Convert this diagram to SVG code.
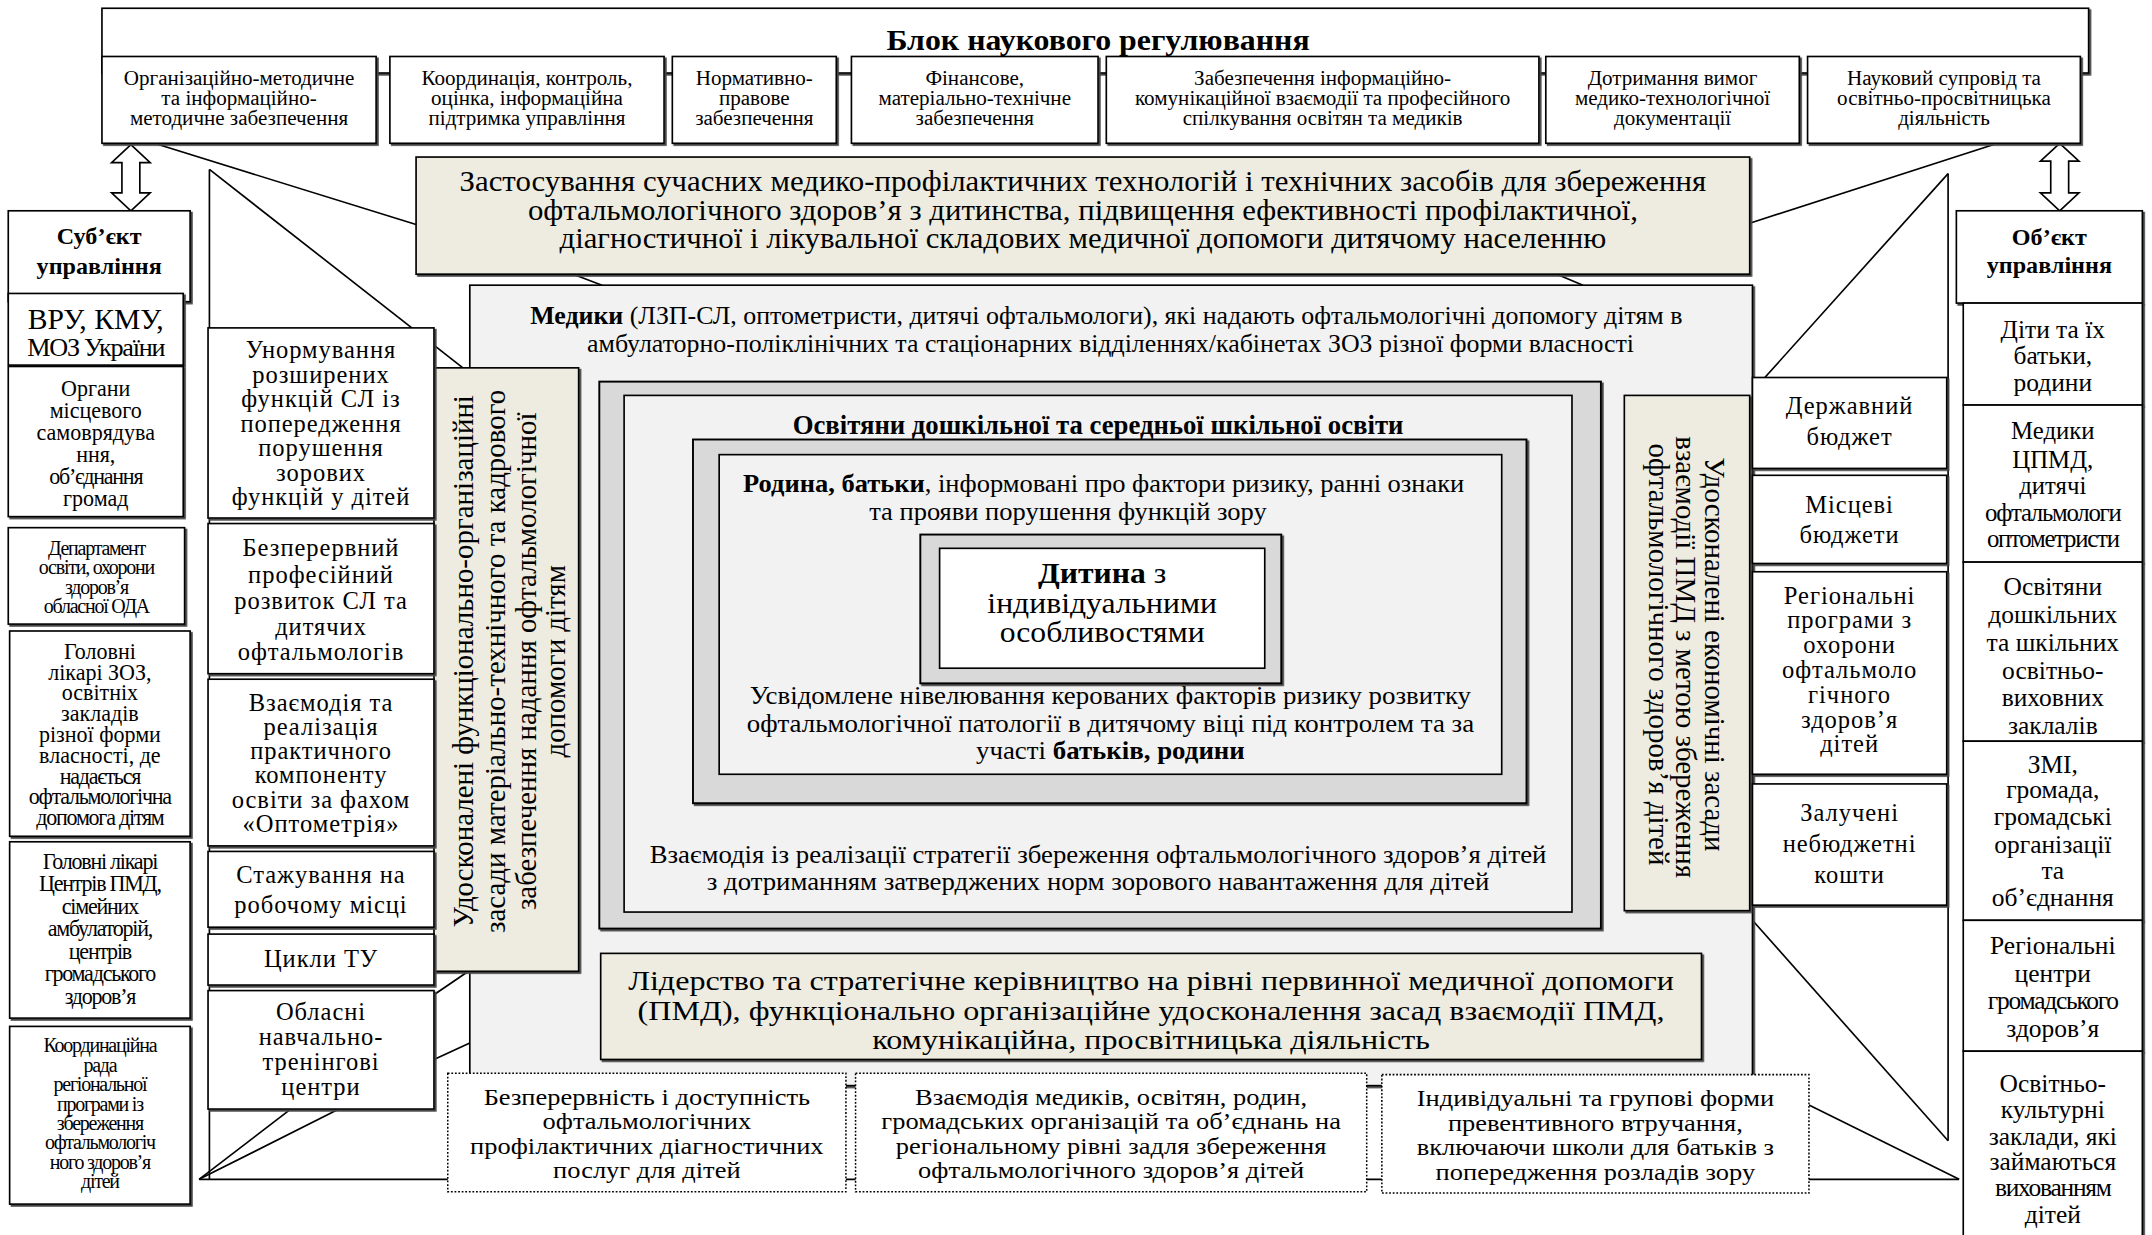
<svg xmlns="http://www.w3.org/2000/svg" width="2152" height="1235" viewBox="0 0 2152 1235">
<defs>
<style>
text{font-family:"Liberation Serif","Times New Roman",serif;fill:#000;text-anchor:middle}
.b{fill:#fff;stroke:#000;stroke-width:1.2}
.bg{fill:#EEECE1;stroke:#000;stroke-width:1.2}
.gr{fill:#F2F2F2;stroke:#000;stroke-width:1.2}
.band{fill:#D9D9D9;stroke:#000;stroke-width:1.4}
.dot{fill:#fff;stroke:#000;stroke-width:1.1;stroke-dasharray:1.3 1.3}
.sh{filter:url(#sh)}
.ln{stroke:#000;stroke-width:1.2;fill:none}
.s{font-size:15.3px}
.m{font-size:17.8px;letter-spacing:0.7px}
.r{font-size:18.5px}
.c{letter-spacing:-0.9px}
.bd{font-weight:bold}
</style>
<filter id="sh" x="-10%" y="-10%" width="125%" height="125%"><feDropShadow dx="1.3" dy="1.3" stdDeviation="0" flood-color="#444"/></filter>
</defs>
<rect width="2152" height="1235" fill="#fff"/>
<g transform="scale(1.37772)">
<g id="connectors">
<line class="ln" x1="112" y1="104" x2="302" y2="163"/>
<line class="ln" x1="1450" y1="104" x2="1270" y2="162"/>
<line class="ln" x1="152" y1="123" x2="152" y2="856"/>
<line class="ln" x1="152" y1="123" x2="336" y2="267"/>
<line class="ln" x1="144.5" y1="856" x2="1422" y2="856"/>
<line class="ln" x1="211" y1="805" x2="144.5" y2="856"/>
<line class="ln" x1="246" y1="805" x2="144.5" y2="856"/>
<line class="ln" x1="315" y1="722" x2="340" y2="705"/>
<line class="ln" x1="315" y1="769" x2="341" y2="757"/>
<line class="ln" x1="1414" y1="126" x2="1414" y2="828"/>
<line class="ln" x1="1414" y1="126" x2="1281" y2="274"/>
<line class="ln" x1="1272" y1="668" x2="1414" y2="828"/>
<line class="ln" x1="1313" y1="802" x2="1422" y2="856"/>
<line class="ln" x1="416" y1="199" x2="437" y2="207"/>
<line class="ln" x1="1149" y1="207" x2="1130" y2="199"/>
<path class="b" d="M95,105 L109,118 L101.5,118 L101.5,140 L109,140 L95,153 L81,140 L88.5,140 L88.5,118 L81,118 Z"/>
<path class="b" d="M1495,104 L1509,117 L1501.5,117 L1501.5,140 L1509,140 L1495,153 L1481,140 L1488.5,140 L1488.5,117 L1481,117 Z"/>
</g>

<g id="block-top">
<rect class="b sh" x="74" y="6" width="1442" height="47"/>
<g transform="matrix(1.1 0 0 1 -79.7 0)"><text class="bd" x="797" y="36.5" font-size="21">Блок наукового регулювання</text></g>
</g>
<g id="top1"><rect class="b sh" x="74" y="41" width="199" height="63"/>
<text class="s"><tspan x="173.5" y="62">Організаційно-методичне</tspan><tspan x="173.5" y="76.5">та інформаційно-</tspan><tspan x="173.5" y="91">методичне  забезпечення</tspan></text></g>
<g id="top2"><rect class="b sh" x="283" y="41" width="199" height="63"/>
<text class="s"><tspan x="382.5" y="62">Координація, контроль,</tspan><tspan x="382.5" y="76.5">оцінка, інформаційна</tspan><tspan x="382.5" y="91">підтримка управління</tspan></text></g>
<g id="top3"><rect class="b sh" x="488" y="41" width="119" height="63"/>
<text class="s"><tspan x="547.5" y="62">Нормативно-</tspan><tspan x="547.5" y="76.5">правове</tspan><tspan x="547.5" y="91">забезпечення</tspan></text></g>
<g id="top4"><rect class="b sh" x="618" y="41" width="179" height="63"/>
<text class="s"><tspan x="707.5" y="62">Фінансове,</tspan><tspan x="707.5" y="76.5">матеріально-технічне</tspan><tspan x="707.5" y="91">забезпечення</tspan></text></g>
<g id="top5"><rect class="b sh" x="803" y="41" width="314" height="63"/>
<text class="s"><tspan x="960" y="62">Забезпечення інформаційно-</tspan><tspan x="960" y="76.5">комунікаційної взаємодії та професійного</tspan><tspan x="960" y="91">спілкування освітян та медиків</tspan></text></g>
<g id="top6"><rect class="b sh" x="1122" y="41" width="184" height="63"/>
<text class="s"><tspan x="1214" y="62">Дотримання вимог</tspan><tspan x="1214" y="76.5">медико-технологічної</tspan><tspan x="1214" y="91">документації</tspan></text></g>
<g id="top7"><rect class="b sh" x="1312" y="41" width="198" height="63"/>
<text class="s"><tspan x="1411" y="62">Науковий супровід та</tspan><tspan x="1411" y="76.5">освітньо-просвітницька</tspan><tspan x="1411" y="91">діяльність</tspan></text></g>

<g id="zastosuvannya"><rect class="bg sh" x="302" y="114" width="968" height="85"/>
<g transform="matrix(1.065 0 0 1 -51.09 0)"><text font-size="21"><tspan x="786" y="139">Застосування сучасних медико-профілактичних технологій і технічних засобів для збереження</tspan><tspan x="786" y="159.5">офтальмологічного здоров’я з дитинства, підвищення ефективності профілактичної,</tspan><tspan x="786" y="180">діагностичної і лікувальної складових медичної допомоги дитячому населенню</tspan></text></g></g>

<g id="medyky"><rect class="gr sh" x="341" y="207" width="931" height="581"/>
<g transform="matrix(1.027 0 0 1 -21.7 0)"><text font-size="18.3"><tspan x="803" y="235"><tspan class="bd">Медики</tspan> (ЛЗП-СЛ, оптометристи, дитячі офтальмологи), які надають  офтальмологічні допомогу дітям в</tspan><tspan x="806" y="255.8">амбулаторно-поліклінічних та стаціонарних відділеннях/кабінетах ЗОЗ різної форми власності</tspan></text></g></g>

<g id="osvityany"><rect class="band sh" x="435" y="277" width="727" height="397"/>
<rect class="gr" x="453" y="287" width="688" height="375"/>
<text class="bd" x="797" y="315" font-size="19.4">Освітяни дошкільної та середньої шкільної освіти</text>
<g transform="matrix(1.08 0 0 1 -63.76 0)"><text font-size="18"><tspan x="797" y="626.6">Взаємодія із реалізації стратегії збереження офтальмологічного здоров’я дітей</tspan><tspan x="797" y="646">з дотриманням затверджених норм зорового навантаження для дітей</tspan></text></g></g>

<g id="rodyna"><rect class="band sh" x="503" y="319" width="605" height="264"/>
<rect class="gr" x="522" y="330" width="568" height="232"/>
<g transform="matrix(1.08 0 0 1 -64 0)"><text font-size="17.8"><tspan x="801" y="356.8"><tspan class="bd">Родина, батьки</tspan>, інформовані про фактори ризику, ранні ознаки</tspan><tspan x="777" y="377.4">та прояви порушення функцій зору</tspan></text></g>
<g transform="matrix(1.096 0 0 1 -77.4 0)"><text font-size="17.8"><tspan x="806" y="510.8">Усвідомлене нівелювання керованих факторів ризику розвитку</tspan><tspan x="806" y="531.2">офтальмологічної патології в дитячому віці під контролем та за</tspan><tspan x="806" y="550.8">участі <tspan class="bd">батьків, родини</tspan></tspan></text></g></g>

<g id="dytyna"><rect class="band sh" x="668" y="388" width="262" height="108"/>
<rect class="b" x="682" y="398" width="236" height="87"/>
<g transform="matrix(1.095 0 0 1 -76 0)"><text font-size="21"><tspan x="800" y="423.5"><tspan class="bd">Дитина</tspan> з</tspan><tspan x="800" y="445">індивідуальними</tspan><tspan x="800" y="466">особливостями</tspan></text></g></g>

<g id="liderstvo"><rect class="bg sh" x="436" y="692" width="799" height="77"/>
<g transform="matrix(1.166 0 0 1 -138.7 0)"><text font-size="20"><tspan x="835.5" y="718.5">Лідерство та стратегічне керівництво на рівні первинної медичної допомоги</tspan><tspan x="835.5" y="740">(ПМД), функціонально організаційне удосконалення засад взаємодії ПМД,</tspan><tspan x="835.5" y="761.5">комунікаційна, просвітницька діяльність</tspan></text></g></g>

<g id="vert-left"><rect class="bg sh" x="315" y="267" width="105" height="438"/>
<g font-size="21">
<text transform="translate(336,480) rotate(-90)" dominant-baseline="central">Удосконалені функціонально-організаційні</text>
<text transform="translate(359,480) rotate(-90)" dominant-baseline="central">засади матеріально-технічного та кадрового</text>
<text transform="translate(381.5,480) rotate(-90)" dominant-baseline="central">забезпечення надання офтальмологічної</text>
<text transform="translate(403,480) rotate(-90)" dominant-baseline="central">допомоги дітям</text>
</g></g>

<g id="vert-right"><rect class="bg sh" x="1179" y="287" width="91" height="374"/>
<g font-size="21">
<text transform="translate(1245,475) rotate(90)" dominant-baseline="central">Удосконалені економічні засади</text>
<text transform="translate(1224,477) rotate(90)" dominant-baseline="central">взаємодії ПМД з метою збереження</text>
<text transform="translate(1204,475) rotate(90)" dominant-baseline="central">офтальмологічного здоров’я дітей</text>
</g></g>

<g id="dot1"><rect class="dot" x="325" y="779" width="289" height="86"/>
<g transform="matrix(1.13 0 0 1 -61.04 0)"><text font-size="17"><tspan x="469.5" y="801.8">Безперервність і доступність</tspan><tspan x="469.5" y="819.6">офтальмологічних</tspan><tspan x="469.5" y="837.4">профілактичних діагностичних</tspan><tspan x="469.5" y="855.2">послуг для дітей</tspan></text></g></g>
<g id="dot2"><rect class="dot" x="621" y="779" width="371" height="86"/>
<g transform="matrix(1.13 0 0 1 -104.85 0)"><text font-size="17"><tspan x="806.5" y="801.8">Взаємодія медиків, освітян, родин,</tspan><tspan x="806.5" y="819.6">громадських організацій та об’єднань на</tspan><tspan x="806.5" y="837.4">регіональному рівні задля збереження</tspan><tspan x="806.5" y="855.2">офтальмологічного здоров’я дітей</tspan></text></g></g>
<g id="dot3"><rect class="dot" x="1003" y="780" width="310" height="86"/>
<g transform="matrix(1.13 0 0 1 -150.54 0)"><text font-size="17"><tspan x="1158" y="802.8">Індивідуальні та групові форми</tspan><tspan x="1158" y="820.6">превентивного втручання,</tspan><tspan x="1158" y="838.4">включаючи школи для батьків з</tspan><tspan x="1158" y="856.2">попередження розладів зору</tspan></text></g></g>

<g id="subject"><rect class="b sh" x="6" y="153" width="132" height="66"/>
<text class="bd" font-size="17.5"><tspan x="72" y="177">Суб’єкт</tspan><tspan x="72" y="199">управління</tspan></text></g>
<g id="l1"><rect class="b sh" x="6" y="213" width="127" height="52"/>
<text><tspan x="69.5" y="238.5" font-size="21.5">ВРУ, КМУ,</tspan><tspan x="69.5" y="258.5" font-size="19" class="c">МОЗ України</tspan></text></g>
<g id="l2"><rect class="b sh" x="6" y="266" width="127" height="109"/>
<text font-size="16"><tspan x="69.5" y="287.4">Органи</tspan><tspan x="69.5" y="303.4">місцевого</tspan><tspan x="69.5" y="319.4">самоврядува</tspan><tspan x="69.5" y="335.4">ння,</tspan><tspan x="69.5" y="351.4" class="c">об’єднання</tspan><tspan x="69.5" y="367.4">громад</tspan></text></g>
<g id="l3"><rect class="b sh" x="6" y="383" width="128" height="70"/>
<text font-size="14.5" class="c"><tspan x="70" y="402.8">Департамент</tspan><tspan x="70" y="416.8">освіти, охорони</tspan><tspan x="70" y="430.8">здоров’я</tspan><tspan x="70" y="444.8">обласної ОДА</tspan></text></g>
<g id="l4"><rect class="b sh" x="7" y="458" width="131" height="149"/>
<text font-size="16"><tspan x="72.5" y="478.2">Головні</tspan><tspan x="72.5" y="493.3">лікарі ЗОЗ,</tspan><tspan x="72.5" y="508.4">освітніх</tspan><tspan x="72.5" y="523.5">закладів</tspan><tspan x="72.5" y="538.6">різної форми</tspan><tspan x="72.5" y="553.7">власності, де</tspan><tspan x="72.5" y="568.8" class="c">надається</tspan><tspan x="72.5" y="583.9" class="c">офтальмологічна</tspan><tspan x="72.5" y="599" class="c">допомога дітям</tspan></text></g>
<g id="l5"><rect class="b sh" x="7" y="611" width="131" height="128"/>
<text font-size="16" class="c"><tspan x="72.5" y="630.4">Головні лікарі</tspan><tspan x="72.5" y="646.8">Центрів ПМД,</tspan><tspan x="72.5" y="663.2">сімейних</tspan><tspan x="72.5" y="679.6">амбулаторій,</tspan><tspan x="72.5" y="696">центрів</tspan><tspan x="72.5" y="712.4">громадського</tspan><tspan x="72.5" y="728.8">здоров’я</tspan></text></g>
<g id="l6"><rect class="b sh" x="7" y="745" width="131" height="129"/>
<text font-size="14.5" class="c"><tspan x="72.5" y="763.8">Координаційна</tspan><tspan x="72.5" y="777.9">рада</tspan><tspan x="72.5" y="792">регіональної</tspan><tspan x="72.5" y="806.1">програми із</tspan><tspan x="72.5" y="820.2">збереження</tspan><tspan x="72.5" y="834.3">офтальмологіч</tspan><tspan x="72.5" y="848.4">ного здоров’я</tspan><tspan x="72.5" y="862.5">дітей</tspan></text></g>

<g id="m1"><rect class="b sh" x="151" y="238" width="164" height="138"/>
<text class="m"><tspan x="233" y="260">Унормування</tspan><tspan x="233" y="277.8">розширених</tspan><tspan x="233" y="295.6">функцій СЛ із</tspan><tspan x="233" y="313.4">попередження</tspan><tspan x="233" y="331.2">порушення</tspan><tspan x="233" y="349">зорових</tspan><tspan x="233" y="366.8">функцій у дітей</tspan></text></g>
<g id="m2"><rect class="b sh" x="151" y="380" width="164" height="109"/>
<text class="m"><tspan x="233" y="403.9">Безперервний</tspan><tspan x="233" y="423">професійний</tspan><tspan x="233" y="442.1">розвиток СЛ та</tspan><tspan x="233" y="461.2">дитячих</tspan><tspan x="233" y="479">офтальмологів</tspan></text></g>
<g id="m3"><rect class="b sh" x="151" y="493" width="164" height="121"/>
<text class="m"><tspan x="233" y="515.8">Взаємодія та</tspan><tspan x="233" y="533.4">реалізація</tspan><tspan x="233" y="551">практичного</tspan><tspan x="233" y="568.6">компоненту</tspan><tspan x="233" y="586.2">освіти за фахом</tspan><tspan x="233" y="603.8">«Оптометрія»</tspan></text></g>
<g id="m4"><rect class="b sh" x="151" y="618" width="164" height="55"/>
<text class="m"><tspan x="233" y="641">Стажування на</tspan><tspan x="233" y="662.4">робочому місці</tspan></text></g>
<g id="m5"><rect class="b sh" x="151" y="678" width="164" height="37"/>
<text class="m" x="233" y="702.2">Цикли ТУ</text></g>
<g id="m6"><rect class="b sh" x="151" y="719" width="164" height="86"/>
<text class="m"><tspan x="233" y="740.5">Обласні</tspan><tspan x="233" y="758.5">навчально-</tspan><tspan x="233" y="776.5">тренінгові</tspan><tspan x="233" y="794.5">центри</tspan></text></g>

<g id="f1"><rect class="b sh" x="1272" y="274" width="141" height="66"/>
<text class="m"><tspan x="1342.5" y="300.7">Державний</tspan><tspan x="1342.5" y="322.8">бюджет</tspan></text></g>
<g id="f2"><rect class="b sh" x="1272" y="345" width="141" height="64"/>
<text class="m"><tspan x="1342.5" y="372">Місцеві</tspan><tspan x="1342.5" y="394">бюджети</tspan></text></g>
<g id="f3"><rect class="b sh" x="1272" y="415" width="141" height="147"/>
<text class="m"><tspan x="1342.5" y="438.1">Регіональні</tspan><tspan x="1342.5" y="456.1">програми з</tspan><tspan x="1342.5" y="474.1">охорони</tspan><tspan x="1342.5" y="492.1">офтальмоло</tspan><tspan x="1342.5" y="510.1">гічного</tspan><tspan x="1342.5" y="528.1">здоров’я</tspan><tspan x="1342.5" y="546.1">дітей</tspan></text></g>
<g id="f4"><rect class="b sh" x="1272" y="569" width="141" height="88"/>
<text class="m"><tspan x="1342.5" y="596">Залучені</tspan><tspan x="1342.5" y="618.5">небюджетні</tspan><tspan x="1342.5" y="641">кошти</tspan></text></g>

<g id="object"><rect class="b sh" x="1420" y="153" width="135" height="67"/>
<text class="bd" font-size="17.5"><tspan x="1487.5" y="177.5">Об’єкт</tspan><tspan x="1487.5" y="198">управління</tspan></text></g>
<g id="r1"><rect class="b sh" x="1425" y="220" width="130" height="74"/>
<text class="r"><tspan x="1490" y="245">Діти та їх</tspan><tspan x="1490" y="264.4">батьки,</tspan><tspan x="1490" y="283.9">родини</tspan></text></g>
<g id="r2"><rect class="b sh" x="1425" y="294" width="130" height="114"/>
<text font-size="18"><tspan x="1490" y="318.5">Медики</tspan><tspan x="1490" y="339.5">ЦПМД,</tspan><tspan x="1490" y="358.5">дитячі</tspan><tspan x="1490" y="377.8" class="c">офтальмологи</tspan><tspan x="1490" y="397" class="c">оптометристи</tspan></text></g>
<g id="r3"><rect class="b sh" x="1425" y="408" width="130" height="130"/>
<text class="r"><tspan x="1490" y="431.6">Освітяни</tspan><tspan x="1490" y="451.9">дошкільних</tspan><tspan x="1490" y="472.2">та шкільних</tspan><tspan x="1490" y="492.5">освітньо-</tspan><tspan x="1490" y="512.8">виховних</tspan><tspan x="1490" y="533.1">заклалів</tspan></text></g>
<g id="r4"><rect class="b sh" x="1425" y="538" width="130" height="130"/>
<text class="r"><tspan x="1490" y="561.3">ЗМІ,</tspan><tspan x="1490" y="579.3">громада,</tspan><tspan x="1490" y="598.5">громадські</tspan><tspan x="1490" y="619.1">організації</tspan><tspan x="1490" y="638.3">та</tspan><tspan x="1490" y="657.6">об’єднання</tspan></text></g>
<g id="r5"><rect class="b sh" x="1425" y="668" width="130" height="95"/>
<text class="r"><tspan x="1490" y="692.3">Регіональні</tspan><tspan x="1490" y="712.9">центри</tspan><tspan x="1490" y="732.1" class="c">громадського</tspan><tspan x="1490" y="752.7">здоров’я</tspan></text></g>
<g id="r6"><rect class="b sh" x="1425" y="763" width="130" height="135"/>
<text class="r"><tspan x="1490" y="792.5">Освітньо-</tspan><tspan x="1490" y="811.8">культурні</tspan><tspan x="1490" y="831">заклади, які</tspan><tspan x="1490" y="849">займаються</tspan><tspan x="1490" y="868.3" class="c">вихованням</tspan><tspan x="1490" y="887.6">дітей</tspan></text></g>
</g>
</svg>
